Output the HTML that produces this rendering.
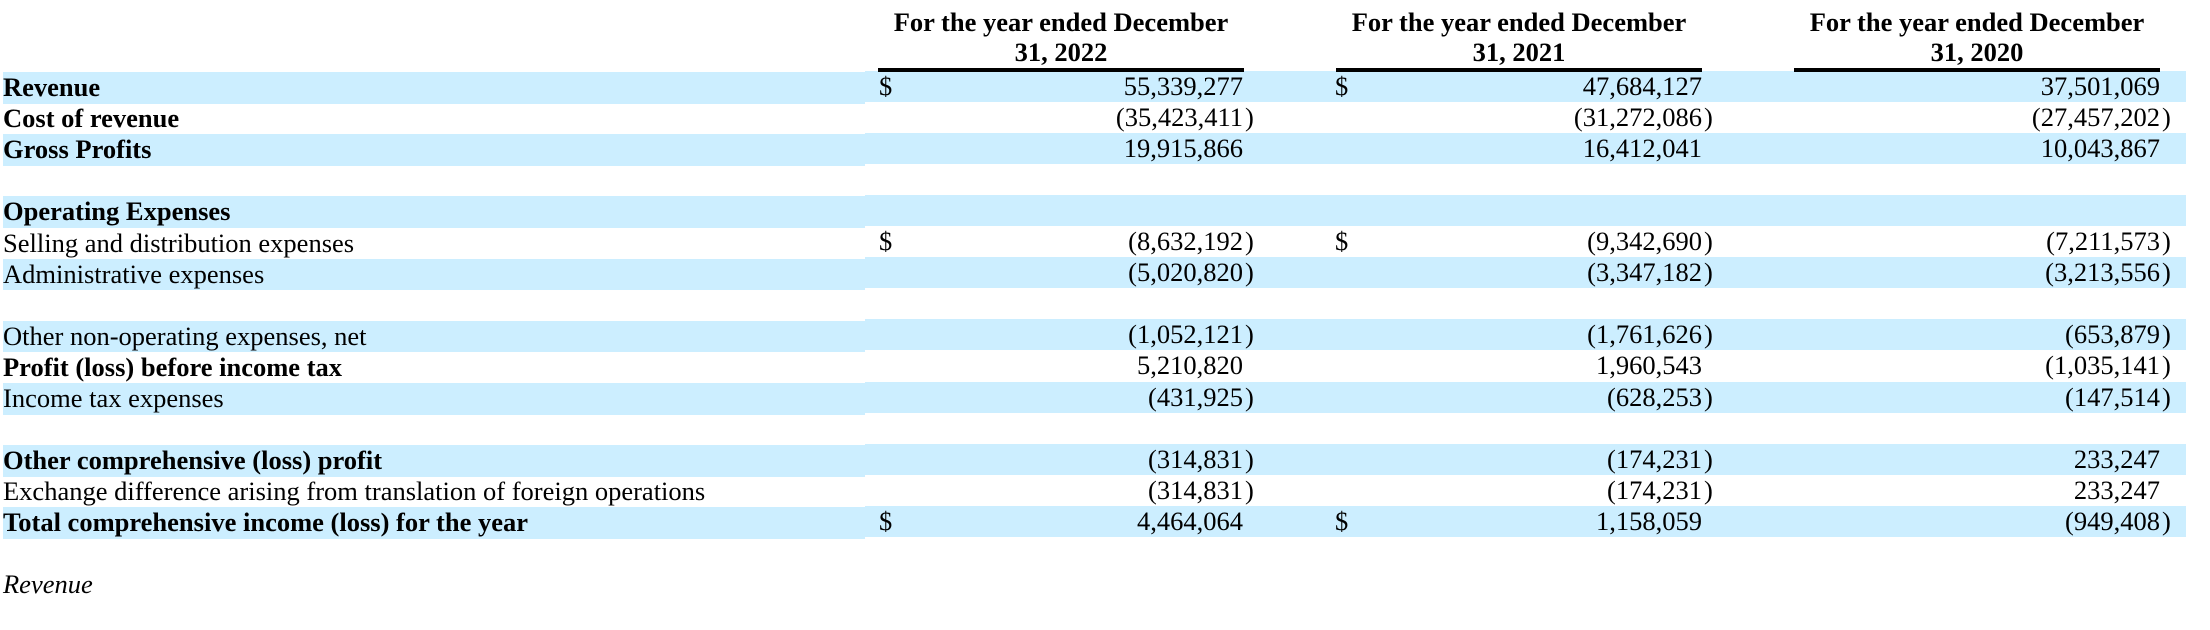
<!DOCTYPE html>
<html>
<head>
<meta charset="utf-8">
<style>
  html,body{margin:0;padding:0;background:#fff;}
  body{width:2210px;height:630px;position:relative;overflow:hidden;
       font-family:"Liberation Serif","Times New Roman",serif;font-size:26.5px;color:#000;}
  .bl{position:absolute;left:3px;width:862px;height:31.5px;background:#cceeff;}
  .br{position:absolute;left:865px;width:1321px;height:31px;background:#cceeff;}
  .t{position:absolute;line-height:31px;white-space:nowrap;}
  .lab{left:3px;}
  .b{font-weight:bold;}
  .n{position:absolute;line-height:31px;white-space:nowrap;}
  .c1{right:967px;}
  .c2{right:508px;}
  .c3{right:50px;}
  .cp{position:absolute;left:100%;margin-left:2px;top:0;}
  .d1{left:879px;}
  .d2{left:1335px;}
  .hd{position:absolute;top:6.5px;width:420px;text-align:center;font-weight:bold;line-height:30px;white-space:nowrap;}
  .ul{position:absolute;top:68px;height:3.5px;width:366px;background:#000;}
</style>
</head>
<body>
<!-- bands -->
<div class="bl" style="top:72px"></div><div class="br" style="top:70.5px"></div>
<div class="bl" style="top:134.2px"></div><div class="br" style="top:132.7px"></div>
<div class="bl" style="top:196.4px"></div><div class="br" style="top:194.9px"></div>
<div class="bl" style="top:258.6px"></div><div class="br" style="top:257.1px"></div>
<div class="bl" style="top:320.8px"></div><div class="br" style="top:319.3px"></div>
<div class="bl" style="top:383px"></div><div class="br" style="top:381.5px"></div>
<div class="bl" style="top:445.2px"></div><div class="br" style="top:443.7px"></div>
<div class="bl" style="top:507.4px"></div><div class="br" style="top:505.9px"></div>

<!-- headers -->
<div class="hd" style="left:851px">For the year ended December<br>31, 2022</div>
<div class="hd" style="left:1309px">For the year ended December<br>31, 2021</div>
<div class="hd" style="left:1767px">For the year ended December<br>31, 2020</div>
<div class="ul" style="left:878px"></div>
<div class="ul" style="left:1336px"></div>
<div class="ul" style="left:1794px"></div>

<!-- labels -->
<div class="t lab b" style="top:72px">Revenue</div>
<div class="t lab b" style="top:103.1px">Cost of revenue</div>
<div class="t lab b" style="top:134.2px">Gross Profits</div>
<div class="t lab b" style="top:196.4px">Operating Expenses</div>
<div class="t lab" style="top:227.5px">Selling and distribution expenses</div>
<div class="t lab" style="top:258.6px">Administrative expenses</div>
<div class="t lab" style="top:320.8px">Other non-operating expenses, net</div>
<div class="t lab b" style="top:351.9px">Profit (loss) before income tax</div>
<div class="t lab" style="top:383px">Income tax expenses</div>
<div class="t lab b" style="top:445.2px">Other comprehensive (loss) profit</div>
<div class="t lab" style="top:476.3px">Exchange difference arising from translation of foreign operations</div>
<div class="t lab b" style="top:507.4px">Total comprehensive income (loss) for the year</div>
<div class="t lab" style="top:568.5px;font-style:italic">Revenue</div>

<!-- dollar signs -->
<div class="t d1" style="top:70.5px">$</div>
<div class="t d2" style="top:70.5px">$</div>
<div class="t d1" style="top:226px">$</div>
<div class="t d2" style="top:226px">$</div>
<div class="t d1" style="top:505.9px">$</div>
<div class="t d2" style="top:505.9px">$</div>

<!-- row 0 -->
<div class="n c1" style="top:70.5px">55,339,277</div>
<div class="n c2" style="top:70.5px">47,684,127</div>
<div class="n c3" style="top:70.5px">37,501,069</div>
<!-- row 1 -->
<div class="n c1" style="top:101.6px">(35,423,411<span class="cp">)</span></div>
<div class="n c2" style="top:101.6px">(31,272,086<span class="cp">)</span></div>
<div class="n c3" style="top:101.6px">(27,457,202<span class="cp">)</span></div>
<!-- row 2 -->
<div class="n c1" style="top:132.7px">19,915,866</div>
<div class="n c2" style="top:132.7px">16,412,041</div>
<div class="n c3" style="top:132.7px">10,043,867</div>
<!-- row 5 -->
<div class="n c1" style="top:226px">(8,632,192<span class="cp">)</span></div>
<div class="n c2" style="top:226px">(9,342,690<span class="cp">)</span></div>
<div class="n c3" style="top:226px">(7,211,573<span class="cp">)</span></div>
<!-- row 6 -->
<div class="n c1" style="top:257.1px">(5,020,820<span class="cp">)</span></div>
<div class="n c2" style="top:257.1px">(3,347,182<span class="cp">)</span></div>
<div class="n c3" style="top:257.1px">(3,213,556<span class="cp">)</span></div>
<!-- row 8 -->
<div class="n c1" style="top:319.3px">(1,052,121<span class="cp">)</span></div>
<div class="n c2" style="top:319.3px">(1,761,626<span class="cp">)</span></div>
<div class="n c3" style="top:319.3px">(653,879<span class="cp">)</span></div>
<!-- row 9 -->
<div class="n c1" style="top:350.4px">5,210,820</div>
<div class="n c2" style="top:350.4px">1,960,543</div>
<div class="n c3" style="top:350.4px">(1,035,141<span class="cp">)</span></div>
<!-- row 10 -->
<div class="n c1" style="top:381.5px">(431,925<span class="cp">)</span></div>
<div class="n c2" style="top:381.5px">(628,253<span class="cp">)</span></div>
<div class="n c3" style="top:381.5px">(147,514<span class="cp">)</span></div>
<!-- row 12 -->
<div class="n c1" style="top:443.7px">(314,831<span class="cp">)</span></div>
<div class="n c2" style="top:443.7px">(174,231<span class="cp">)</span></div>
<div class="n c3" style="top:443.7px">233,247</div>
<!-- row 13 -->
<div class="n c1" style="top:474.8px">(314,831<span class="cp">)</span></div>
<div class="n c2" style="top:474.8px">(174,231<span class="cp">)</span></div>
<div class="n c3" style="top:474.8px">233,247</div>
<!-- row 14 -->
<div class="n c1" style="top:505.9px">4,464,064</div>
<div class="n c2" style="top:505.9px">1,158,059</div>
<div class="n c3" style="top:505.9px">(949,408<span class="cp">)</span></div>
</body>
</html>
